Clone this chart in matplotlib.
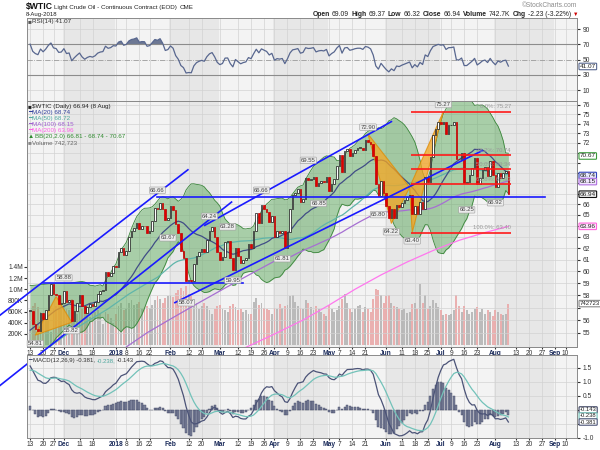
import numpy as np
import pandas as pd
import matplotlib
matplotlib.use("Agg")
import matplotlib.pyplot as plt
import matplotlib.transforms as mtransforms

plt.rcParams["font.family"] = ["Liberation Sans", "DejaVu Sans"]

# ---------------- data ----------------
holidays = ["2017-11-23", "2017-12-25", "2018-01-01", "2018-01-15", "2018-02-19",
            "2018-03-30", "2018-05-28", "2018-07-04", "2018-09-03"]

# daily closes 13 Nov 2017 .. 8 Aug 2018
close = [
    56.76, 55.70, 55.33, 55.14, 56.55, 56.09, 56.83, 58.02, 58.95, 58.11, 57.99, 57.30, 57.40,
    58.36, 57.47, 57.62, 55.96, 56.69, 57.36, 57.99, 57.14, 56.60, 57.04, 57.30, 57.16, 57.46,
    58.09, 58.36, 58.47, 59.97, 59.64, 59.84, 60.42,
    60.37, 61.63, 62.01, 61.44, 61.73, 62.96, 63.57, 63.80, 64.30, 63.73, 63.97, 63.95, 63.37,
    63.57, 64.47, 65.61, 65.51, 66.14, 65.56, 64.50, 64.73,
    65.80, 65.45, 64.15, 63.39, 61.79, 61.15, 59.20, 59.29, 59.19, 60.60, 61.34, 61.68, 61.90,
    61.68, 62.77, 63.55, 63.91, 63.01, 61.64,
    60.99, 61.25, 62.57, 62.60, 61.15, 60.12, 62.04, 61.36, 60.71, 61.02, 61.19, 62.34, 62.06,
    63.54, 65.17, 64.30, 65.88, 65.55, 65.25, 64.38, 64.94,
    63.01, 63.51, 63.37, 63.54, 62.06, 63.42, 65.51, 66.82, 67.07, 67.39, 66.22, 66.52, 68.47,
    68.29, 68.38, 68.64, 67.70, 68.05, 68.19, 68.10, 68.57,
    67.25, 67.93, 68.43, 69.72, 70.73, 69.06, 71.14, 71.36, 70.70, 70.96, 71.31, 71.49, 71.49,
    71.28, 72.24, 72.13, 71.84, 70.71, 67.88, 66.73, 68.21, 67.04,
    65.81, 64.75, 65.52, 64.73, 65.95, 65.74, 66.10, 66.36, 66.64, 66.89, 65.06, 65.85, 65.07,
    66.22, 65.54, 68.58, 68.08, 70.53, 72.76, 73.45, 74.15,
    73.94, 74.14, 72.94, 73.80, 73.85, 74.11, 70.38, 70.33, 71.01, 68.06, 68.08, 68.76, 69.46,
    70.46, 67.89, 68.52, 69.30, 69.61, 68.69, 70.13, 68.76,
    67.66, 68.96, 68.49, 69.01, 69.17, 66.94,
]
prev_close0 = 56.74

# daily volume, thousands of contracts
volume = [
    620, 700, 760, 680, 590, 510, 600, 560, 240, 640, 700, 820, 900,
    760, 640, 620, 820, 700, 560, 610, 640, 690, 560, 500, 560, 600, 620, 560, 380, 600, 560, 480, 400,
    560, 700, 760, 620, 640, 760, 800, 720, 740, 780, 640, 680, 700, 660, 720, 800, 880, 820, 760, 840, 880,
    900, 860, 940, 980, 1020, 960, 1050, 920, 880, 820, 760, 640, 700, 760, 700, 620, 560, 640, 700,
    720, 640, 620, 600, 700, 740, 680, 620, 640, 600, 620, 560, 560, 780, 840, 720, 760, 660, 640, 620, 560,
    660, 640, 740, 660, 700, 720, 880, 900, 780, 700, 660, 640, 800, 760, 680, 620, 700, 640, 600, 560, 520,
    720, 640, 600, 620, 700, 820, 920, 760, 640, 600, 640, 700, 720, 600, 680, 640, 600, 820, 1000, 980, 900, 760,
    880, 900, 760, 700, 680, 640, 620, 640, 580, 600, 740, 760, 640, 1100, 760, 900, 640, 700, 800, 760, 680,
    620, 540, 560, 540, 560, 620, 900, 700, 600, 700, 620, 560, 600, 640, 680, 600, 640, 560, 620, 600, 520,
    620, 600, 560, 540, 560, 743,
]

tick_dates = ["2017-11-13", "2017-11-20", "2017-11-27", "2017-12-01", "2017-12-11", "2017-12-18",
              "2018-01-02", "2018-01-08", "2018-01-16", "2018-01-22", "2018-02-01", "2018-02-12",
              "2018-02-20", "2018-03-01", "2018-03-12", "2018-03-19", "2018-03-26", "2018-04-02",
              "2018-04-09", "2018-04-16", "2018-04-23", "2018-05-01", "2018-05-07", "2018-05-14",
              "2018-05-21", "2018-06-01", "2018-06-11", "2018-06-18", "2018-06-25", "2018-07-02",
              "2018-07-09", "2018-07-16", "2018-07-23", "2018-08-01", "2018-08-13", "2018-08-20",
              "2018-08-27", "2018-09-04", "2018-09-10"]
tick_labels = ["13", "20", "27", "Dec", "11", "18", "2018", "8", "16", "22", "Feb", "12", "20",
               "Mar", "12", "19", "26", "Apr", "9", "16", "23", "May", "7", "14", "21", "Jun",
               "11", "18", "25", "Jul", "9", "16", "23", "Aug", "13", "20", "27", "Sep", "10"]

# indicator values at the left edge (history before the window)
ema12_seed, ema26_seed, signal_seed = 56.25, 54.60, 1.38
rsi_gain_seed, rsi_loss_seed = 0.40, 0.17
bb_early_x = [0, 5, 10, 15]
bb_early_mid = [55.2, 56.0, 56.8, 57.3]
bb_early_up = [58.8, 58.9, 59.0, 59.0]
bb_early_low = [51.6, 53.1, 54.6, 55.6]
ma50_early_x = [8, 15, 22, 30, 38, 45]
ma50_early = [54.0, 55.0, 55.9, 56.9, 58.1, 59.0]
ma100_early_x = [37, 45, 55, 65, 75, 85, 95]
ma100_early = [53.9, 55.0, 56.2, 57.4, 58.6, 59.8, 61.0]
ma200_x = [80, 93, 105, 115, 125, 135, 145, 155, 165, 175, 184]
ma200_vals = [53.6, 54.8, 56.0, 57.2, 58.5, 59.7, 60.8, 61.8, 62.7, 63.4, 63.96]

# annotations: pivot labels (day index, price, text, above?)
pivots = [(2, 54.81, "54.81", False), (13, 58.88, "58.88", True), (16, 55.82, "55.82", False),
          (49, 66.66, "66.66", True), (53, 63.67, "63.67", False), (69, 64.24, "64.24", True),
          (76, 63.28, "63.28", True), (60, 58.07, "58.07", False), (78, 59.95, "59.95", False),
          (97, 61.81, "61.81", False), (89, 66.66, "66.66", True), (111, 66.85, "66.85", False),
          (107, 69.55, "69.55", True), (130, 72.90, "72.90", True), (134, 65.80, "65.80", False),
          (139, 64.22, "64.22", False), (147, 63.40, "63.40", False), (159, 75.27, "75.27", True),
          (168, 66.25, "66.25", False), (179, 66.92, "66.92", False)]
# trend lines (x0, p0, x1, p1)
trend_lines = [(-11.5, 56.4, 60.7, 69.3), (-11.5, 51.05, 77.5, 66.2), (67.2, 64.05, 139.0, 74.2),
               (55.7, 57.4, 173.9, 71.2)]
hlines_blue = [(5, 59.05, 82, 59.05), (49, 66.7, 198, 66.7)]
fib_pct = ["0.0%", "38.2%", "50.0%", "61.8%", "100.0%"]
fib_levels = [75.27, 70.74, 69.34, 67.93, 63.40]
# harmonic pattern legs
patterns = [[(2, 54.81), (10, 57.9), (16, 55.82)],
            [(130, 72.90), (139, 64.22), (146, 67.6)],
            [(146, 67.6), (147, 63.40), (159, 75.27)]]
# last MACD values (macd, signal, histogram) shown in the right-hand tags
macd_tags = [(-0.143, "#3d4462"), (-0.238, "#72c2b9"), (-0.381, "#4b5377")]

# ---------------- derived series ----------------
holi = pd.to_datetime(holidays)
days = pd.bdate_range("2017-11-13", "2018-09-14")
days = days[~days.isin(holi)]
n = len(close)
x = np.arange(n)
c = np.array(close)
o = np.r_[prev_close0, c[:-1]]
up = c >= o

def ema(vals, seed, span):
    a = 2.0 / (span + 1)
    out, e = [], seed
    for v in vals:
        e = e + a * (v - e)
        out.append(e)
    return np.array(out)

macd = ema(c, ema12_seed, 12) - ema(c, ema26_seed, 26)
signal = ema(macd, signal_seed, 9)
hist = macd - signal

rsi = []
ag, al = rsi_gain_seed, rsi_loss_seed
for d in c - o:
    ag = (ag * 13 + max(d, 0)) / 14
    al = (al * 13 + max(-d, 0)) / 14
    rsi.append(100 - 100 / (1 + ag / al))
rsi = np.array(rsi)

cs = pd.Series(c)
mid = cs.rolling(20).mean().values
sd = cs.rolling(20).std(ddof=0).values
bb_x = np.r_[bb_early_x, x[19:]]
bb_mid = np.r_[bb_early_mid, mid[19:]]
bb_up = np.r_[bb_early_up, (mid + 2 * sd)[19:]]
bb_low = np.r_[bb_early_low, (mid - 2 * sd)[19:]]
ma50_x = np.r_[ma50_early_x, x[49:]]
ma50 = np.r_[ma50_early, cs.rolling(50).mean().values[49:]]
ma100_x = np.r_[ma100_early_x, x[99:]]
ma100 = np.r_[ma100_early, cs.rolling(100).mean().values[99:]]

tick_idx = [days.get_loc(pd.Timestamp(d)) for d in tick_dates]
month_start = [0] + [i for i in range(1, len(days)) if days[i].month != days[i - 1].month]

# ---------------- figure ----------------
fig = plt.figure(figsize=(6, 4.5), dpi=100)
rend = fig.canvas.get_renderer()

def rect(top, bot):
    return [27 / 600, 1 - bot / 450, 550 / 600, (bot - top) / 450]

def px(xp, yp):
    return xp / 600, 1 - yp / 450

def seq_text(x0, y, parts, size, align="left", gap=2.5):
    # run of texts on one shared baseline; y is the visual middle of the capitals
    base = y + 0.36 * size * 100 / 72
    objs = []
    for t, col, w in parts:
        objs.append(fig.text(0, 0, t, fontsize=size, color=col, fontweight=w, va="baseline"))
    widths = [ob.get_window_extent(renderer=rend).width for ob in objs]
    total = sum(widths) + gap * (len(objs) - 1)
    xp = x0 - total if align == "right" else x0
    for ob, wd in zip(objs, widths):
        ob.set_position(px(xp, base))
        xp += wd + gap

XL = (-1.2, 210.4)

def panel(a):
    a.set_facecolor("#f3f3f3")
    for k, s in enumerate(month_start):
        e = month_start[k + 1] if k + 1 < len(month_start) else len(days)
        if days[s].month % 2 == 0:
            a.axvspan(s - 0.5, e - 0.5, color="#e7e7e7", lw=0, zorder=0)
    for t in tick_idx:
        a.axvline(t, color="#d2d2d2", lw=0.5, zorder=0.5)
    for sp in a.spines.values():
        sp.set_color("#8a8a8a")
        sp.set_linewidth(0.7)
    a.set_xlim(*XL)

def rbox(a, yv, text, ec, fc="white", tc="#222222", lw=0.8, size=4.6):
    tr = mtransforms.blended_transform_factory(a.transAxes, a.transData)
    a.text(1.005, yv, text, transform=tr, fontsize=size, color=tc, va="center", ha="left",
           bbox=dict(boxstyle="round,pad=0.12", fc=fc, ec=ec, lw=lw), clip_on=False, zorder=10)

def xlabels(a):
    a.set_xticks(tick_idx)
    a.set_xticklabels(tick_labels)
    a.tick_params(axis="x", labelsize=4.8, length=1.5, pad=0.8, colors="#333333")
    for lab in a.get_xticklabels():
        if not lab.get_text().isdigit() or lab.get_text() == "2018":
            lab.set_fontweight("bold")
            lab.set_color("#1a2a5a")

# RSI panel
ax_rsi = fig.add_axes(rect(18, 101))
panel(ax_rsi)
ax_rsi.set_ylim(-4.2, 104.6)
for lv in (10, 90):
    ax_rsi.axhline(lv, color="#d2d2d2", lw=0.5, zorder=0.5)
ax_rsi.axhline(70, color="#8c8c8c", lw=0.8)
ax_rsi.axhline(30, color="#8c8c8c", lw=0.8)
ax_rsi.axhline(50, color="#9a9a9a", lw=0.6, ls="-.")
ax_rsi.fill_between(x, rsi, 70, where=rsi > 70, color="#6d7894", lw=0, interpolate=True)
ax_rsi.fill_between(x, rsi, 30, where=rsi < 30, color="#6d7894", lw=0, interpolate=True)
ax_rsi.plot(x, rsi, color="#58678f", lw=0.9)
ax_rsi.yaxis.tick_right()
ax_rsi.set_yticks([10, 30, 50, 70, 90])
ax_rsi.tick_params(axis="y", labelsize=4.8, length=2, pad=2, colors="#333333")
ax_rsi.set_xticks([])
rbox(ax_rsi, 41.07, "41.07", "#58678f")
seq_text(28, 21, [("\u25a0", "#555555", "normal"), ("RSI(14) 41.07", "#333333", "normal")], 4.5,
         gap=0.5)

# volume (behind price)
ax_vol = fig.add_axes(rect(101, 347))
panel(ax_vol)
ax_vol.set_ylim(-36e3, 4.378e6)
vcol = ["#b5b5b5" if u else "#eaa9a9" for u in up]
ax_vol.bar(x, np.array(volume) * 1000, width=0.72, color=vcol, alpha=0.9, zorder=1)
ax_vol.set_yticks([2e5, 4e5, 6e5, 8e5, 1e6, 1.2e6, 1.4e6])
ax_vol.set_yticklabels(["200K", "400K", "600K", "800K", "1.0M", "1.2M", "1.4M"])
ax_vol.tick_params(axis="y", labelsize=4.8, length=2, pad=1, colors="#333333")
ax_vol.set_xticks([])
rbox(ax_vol, volume[-1] * 1000, "742723", "#888888", size=4.3)

# price
ax = fig.add_axes(rect(101, 347))
ax.set_facecolor("none")
ax.set_yscale("log")
ax.set_ylim(53.9, 76.4)
ax.set_xlim(*XL)
for sp in ax.spines.values():
    sp.set_color("#8a8a8a")
    sp.set_linewidth(0.7)
ticks = list(range(55, 77))
for t in ticks:
    ax.axhline(t, color="#d2d2d2", lw=0.5, zorder=0.2)
boxes = [(70.67, "70.67", "#3c9a3c", "white"), (68.74, "68.74", "#3344bb", "#e8eaff"),
         (68.15, "68.15", "#b070e0", "#f1e6ff"), (66.94, "66.94", "#111111", "#f0f0f0"),
         (63.96, "63.96", "#ff66dd", "#ffe6fb")]
hide = [t for t in ticks if any(abs(np.log10(t / b[0])) < 0.0045 for b in boxes)] + [57]
ax.yaxis.tick_right()
ax.yaxis.set_minor_locator(matplotlib.ticker.NullLocator())
ax.set_yticks(ticks)
ax.set_yticklabels(["" if t in hide else str(t) for t in ticks])
ax.tick_params(axis="y", labelsize=4.8, length=2, pad=2, colors="#333333")

ax.fill_between(bb_x, bb_low, bb_up, color="#5faa5f", alpha=0.5, lw=0, zorder=1)
ax.plot(bb_x, bb_up, color="#3b863b", lw=0.6, zorder=1.2)
ax.plot(bb_x, bb_low, color="#3b863b", lw=0.6, zorder=1.2)
ax.plot(ma200_x, ma200_vals, color="#ff77ee", lw=0.9, zorder=2)
ax.plot(ma100_x, ma100, color="#a66fd2", lw=0.9, zorder=2)
ax.plot(ma50_x, ma50, color="#5fb5aa", lw=0.9, zorder=2)
ax.plot(bb_x, bb_mid, color="#414d86", lw=0.9, zorder=2)

for tri in patterns:
    ax.fill([p[0] for p in tri], [p[1] for p in tri], color="#f5a623", alpha=0.75, lw=0.8,
            ec="#e08a00", zorder=2.5)

bot = np.minimum(o, c)
hgt = np.maximum(np.abs(c - o), 0.06)
ax.bar(x, hgt, bottom=bot, width=0.62, color=np.where(up, "white", "#e00000"),
       edgecolor=np.where(up, "#111111", "#c00000"), lw=0.5, zorder=3)

for x0, p0, x1, p1 in trend_lines + hlines_blue:
    ax.plot([x0, x1], [p0, p1], color="#1a1aff", lw=1.2, zorder=4, clip_on=False)
ax.hlines(fib_levels, 146.5, 185, color="#ff1a1a", lw=1.2, zorder=4)
for pct, lv in zip(fib_pct, fib_levels):
    ax.text(185, lv * 1.003, f"{pct}: {lv:.2f}", fontsize=4.2, color="#9a9a9a", ha="right",
            va="bottom", zorder=5)

for xi, pv, txt, above in pivots:
    ax.annotate(txt, (xi, pv), xytext=(0, 5 if above else -6), textcoords="offset points",
                ha="center", va="center", fontsize=4.3, color="#444444", zorder=6,
                bbox=dict(boxstyle="round,pad=0.12", fc="#ececec", ec="#9a9a9a", lw=0.4))

for yv, txt, ec, fc in boxes:
    rbox(ax, yv, txt, ec, fc)
xlabels(ax)

legend = [("$WTIC (Daily) 66.94 (8 Aug)", "#222222", "#222222"),
          ("MA(20) 68.74", "#2f3d9a", "#2f3d9a"), ("MA(50) 68.72", "#4fa89e", "#4fa89e"),
          ("MA(100) 68.15", "#a05fd0", "#a05fd0"), ("MA(200) 63.96", "#ff5ce6", "#ff5ce6"),
          ("BB(20,2.0) 66.81 - 68.74 - 70.67", "#2f8a2f", "#2f8a2f"),
          ("Volume 742,723", "#666666", "#888888")]
marks = ["\u25a0", "\u2501", "\u2501", "\u2501", "\u2501", "\u25b2", "\u25a0"]
for k, ((txt, col, mcol), mk) in enumerate(zip(legend, marks)):
    seq_text(28, 106 + 6 * k, [(mk, mcol, "normal"), (txt, col, "normal")], 4.5, gap=0.5)

# MACD panel
ax_m = fig.add_axes(rect(355, 438))
panel(ax_m)
ax_m.set_ylim(-1.0, 1.96)
for lv in (-1.0, -0.5, 0.0, 0.5, 1.0, 1.5):
    ax_m.axhline(lv, color="#d2d2d2", lw=0.5, zorder=0.5)
ax_m.bar(x, hist, width=0.8, color="#7a8099", edgecolor="#3d4462", lw=0.3, zorder=2)
ax_m.plot(x, macd, color="#4b5377", lw=0.9, zorder=3)
ax_m.plot(x, signal, color="#72c2b9", lw=0.9, zorder=3)
ax_m.yaxis.tick_right()
ax_m.set_yticks([-1.0, -0.5, 0.0, 0.5, 1.0, 1.5])
ax_m.set_yticklabels(["-1.0", "", "", "0.5", "1.0", "1.5"])
ax_m.tick_params(axis="y", labelsize=4.8, length=2, pad=2, colors="#333333")
xlabels(ax_m)
# tags stacked just clear of each other, top one at the zero line
for k, (val, ec) in enumerate(macd_tags):
    rbox(ax_m, 0.0 - 0.215 * k, f"{val:.3f}", ec, size=4.2)
seq_text(28, 360, [("\u2501", "#4b5377", "normal"), ("MACD(12,26,9) -0.381,", "#333333", "normal"),
                   ("-0.238,", "#4fa89e", "normal"), ("-0.143", "#333333", "normal")], 4.3,
         gap=1.5)

# header
seq_text(26, 6, [("$WTIC", "#111111", "bold")], 6.2)
seq_text(54, 6.5, [("Light Crude Oil - Continuous Contract (EOD)", "#222222", "normal"),
                   ("CME", "#222222", "normal")], 4.5, gap=3)
seq_text(26, 14, [("8-Aug-2018", "#222222", "normal")], 4.3)
seq_text(577, 5, [("\u00a9StockCharts.com", "#8a8a8a", "normal")], 4.8, align="right")
stats = [("Open", "bold"), ("69.09", "normal"), ("High", "bold"), ("69.37", "normal"),
         ("Low", "bold"), ("66.32", "normal"), ("Close", "bold"), ("66.94", "normal"),
         ("Volume", "bold"), ("742.7K", "normal"), ("Chg", "bold"), ("-2.23 (-3.22%)", "normal")]
seq_text(571, 14, [(t, "#222222", w) for t, w in stats], 4.9, align="right", gap=2.2)
fig.text(*px(573, 14.5), "\u25bc", fontsize=4, color="#cc0000", va="center")

fig.savefig("out.png", dpi=100, facecolor="white")
